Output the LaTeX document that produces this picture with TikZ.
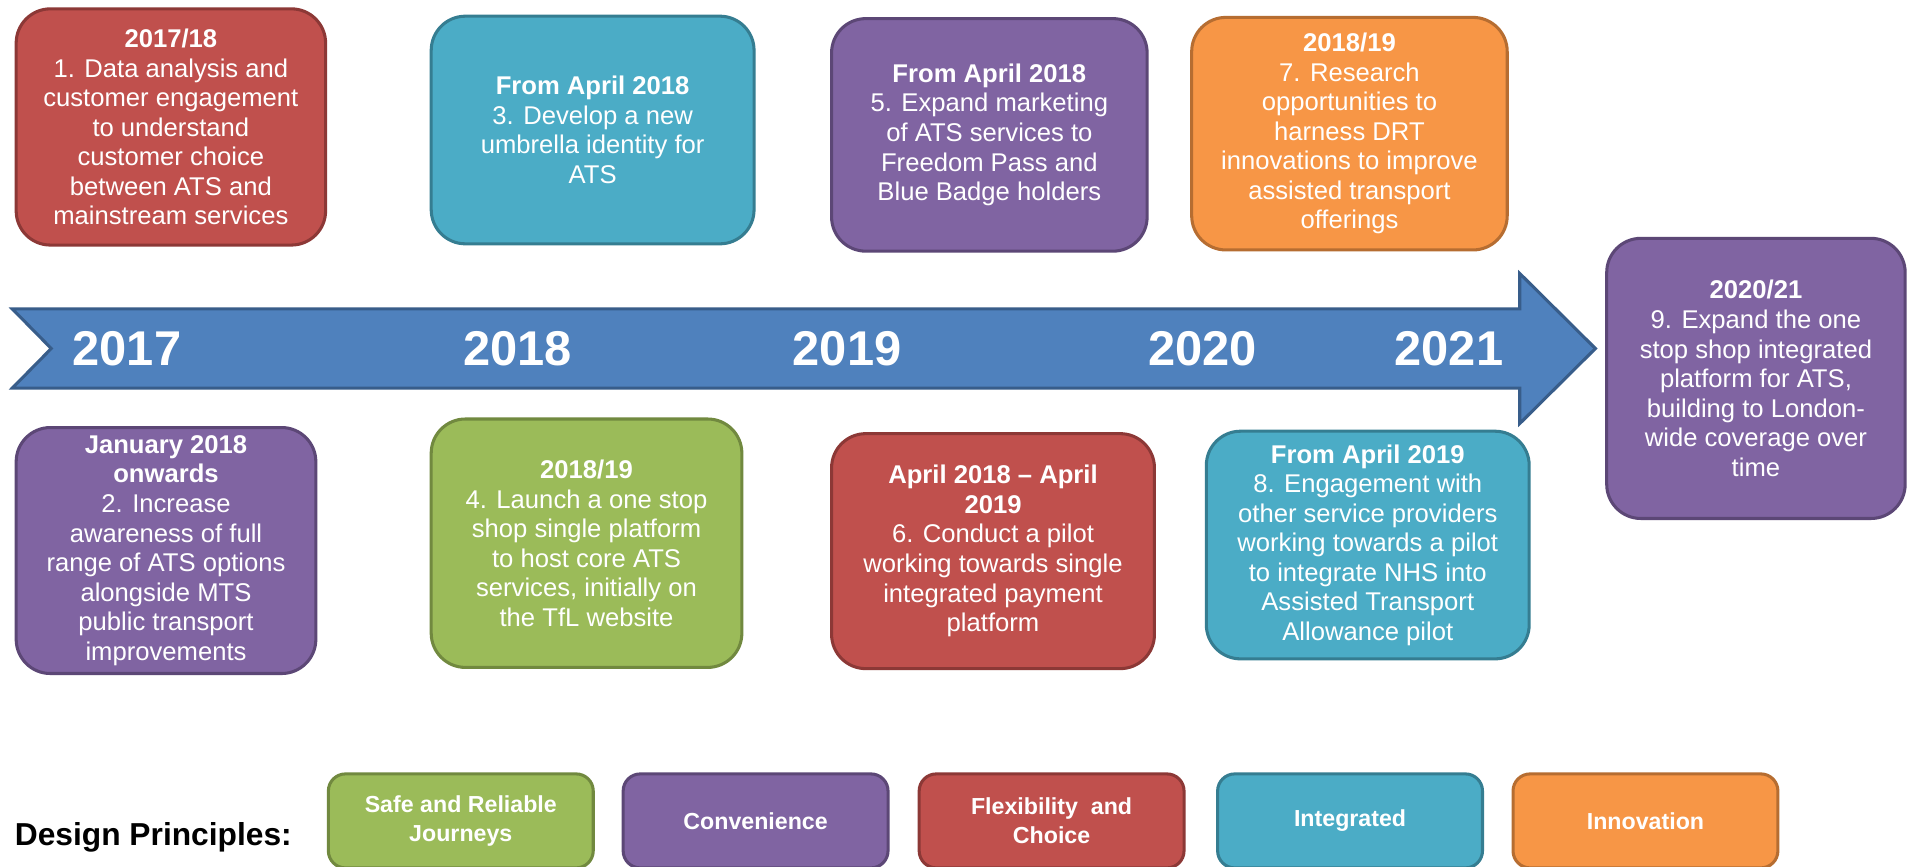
\documentclass[tikz,border=0pt]{standalone}
\usepackage{fontspec}
\setmainfont{Liberation Sans}
\definecolor{cred}{HTML}{C0504D}\definecolor{credd}{HTML}{8C3836}
\definecolor{cteal}{HTML}{4BACC6}\definecolor{cteald}{HTML}{357D91}
\definecolor{cpur}{HTML}{8064A2}\definecolor{cpurd}{HTML}{5C4776}
\definecolor{cgrn}{HTML}{9BBB59}\definecolor{cgrnd}{HTML}{71893F}
\definecolor{corg}{HTML}{F79646}\definecolor{corgd}{HTML}{B66D31}
\definecolor{cblue}{HTML}{4F81BD}\definecolor{cblued}{HTML}{385D8A}
\newcommand\bxfont{\fontsize{21}{24.2}\selectfont}
\tikzset{
  tlbox/.style={rounded corners=28pt, line width=2.5pt, text=white, align=center, font=\bxfont, inner sep=0pt},
  legbox/.style={rounded corners=14pt, line width=2.5pt, text=white, align=center, font=\bfseries\fontsize{19}{24}\selectfont, inner sep=0pt, minimum width=217pt, minimum height=77pt},
  redb/.style={fill=cred, draw=credd},
  tealb/.style={fill=cteal, draw=cteald},
  purb/.style={fill=cpur, draw=cpurd},
  grnb/.style={fill=cgrn, draw=cgrnd},
  orgb/.style={fill=corg, draw=corgd},
  yearlab/.style={text=white, font=\bfseries\fontsize{40}{48}\selectfont, inner sep=0pt},
  timearrow/.style={fill=cblue, draw=cblued, line width=2.5pt, line join=miter}
}
\begin{document}
\begin{tikzpicture}[x=1pt, y=-1pt]
\clip (0,0) rectangle (1568,710);
\fill[white] (0,0) rectangle (1568,710);

% timeline arrow
\draw[timearrow] (10,253) -- (1245,253) -- (1245,224) -- (1307,285.5) -- (1245,347) -- (1245,318) -- (10,318) -- (42,285.5) -- cycle;
\node[yearlab] (y2017) at (104,285.5) {2017};
\node[yearlab] (y2018) at (424,285.5) {2018};
\node[yearlab] (y2019) at (694,285.5) {2019};
\node[yearlab] (y2020) at (985,285.5) {2020};
\node[yearlab] (y2021) at (1187,285.5) {2021};

% top boxes
\node[tlbox, redb, minimum width=253.5pt, minimum height=193.5pt] (b1) at (140,104)
  {\textbf{2017/18}\\1. Data analysis and\\customer engagement\\to understand\\customer choice\\between ATS and\\mainstream services};
\node[tlbox, tealb, minimum width=264.5pt, minimum height=186.5pt] (b3) at (485.5,106.5)
  {\textbf{From April 2018}\\3. Develop a new\\umbrella identity for\\ATS};
\node[tlbox, purb, minimum width=258.5pt, minimum height=190.5pt] (b5) at (810.5,110.5)
  {\textbf{From April 2018}\\5. Expand marketing\\of ATS services to\\Freedom Pass and\\Blue Badge holders};
\node[tlbox, orgb, minimum width=258.5pt, minimum height=190.5pt] (b7) at (1105.5,109.5)
  {\textbf{2018/19}\\7. Research\\opportunities to\\harness DRT\\innovations to improve\\assisted transport\\offerings};

% bottom boxes
\node[tlbox, purb, minimum width=245.5pt, minimum height=201.5pt] (b2) at (136,451)
  {\textbf{January 2018}\\\textbf{onwards}\\2. Increase\\awareness of full\\range of ATS options\\alongside MTS\\public transport\\improvements};
\node[tlbox, grnb, minimum width=254.5pt, minimum height=203.5pt] (b4) at (480.5,445)
  {\textbf{2018/19}\\4. Launch a one stop\\shop single platform\\to host core ATS\\services, initially on\\the TfL website};
\node[tlbox, redb, minimum width=264.5pt, minimum height=192.5pt] (b6) at (813.5,451.5)
  {\textbf{April 2018 – April}\\\textbf{2019}\\6. Conduct a pilot\\working towards single\\integrated payment\\platform};
\node[tlbox, tealb, minimum width=264.5pt, minimum height=186.5pt] (b8) at (1120.5,446.5)
  {\textbf{From April 2019}\\8. Engagement with\\other service providers\\working towards a pilot\\to integrate NHS into\\Assisted Transport\\Allowance pilot};

% right box
\node[tlbox, purb, minimum width=244.5pt, minimum height=229.5pt] (b9) at (1438.5,310)
  {\textbf{2020/21}\\9. Expand the one\\stop shop integrated\\platform for ATS,\\building to London-\\wide coverage over\\time};

% legend
\node[anchor=west, inner sep=0pt, font=\bfseries\fontsize{26}{30}\selectfont] (dp) at (12,686) {Design Principles:};
\node[legbox, grnb] (l1) at (377.5,672.5) {Safe and Reliable\\Journeys};
\node[legbox, purb] (l2) at (619,672.5) {Convenience};
\node[legbox, redb] (l3) at (861.5,672.5) {Flexibility\ \ and\\Choice};
\node[legbox, tealb] (l4) at (1106,672.5) {Integrated};
\node[legbox, orgb] (l5) at (1348,672.5) {Innovation};
\end{tikzpicture}
\end{document}
